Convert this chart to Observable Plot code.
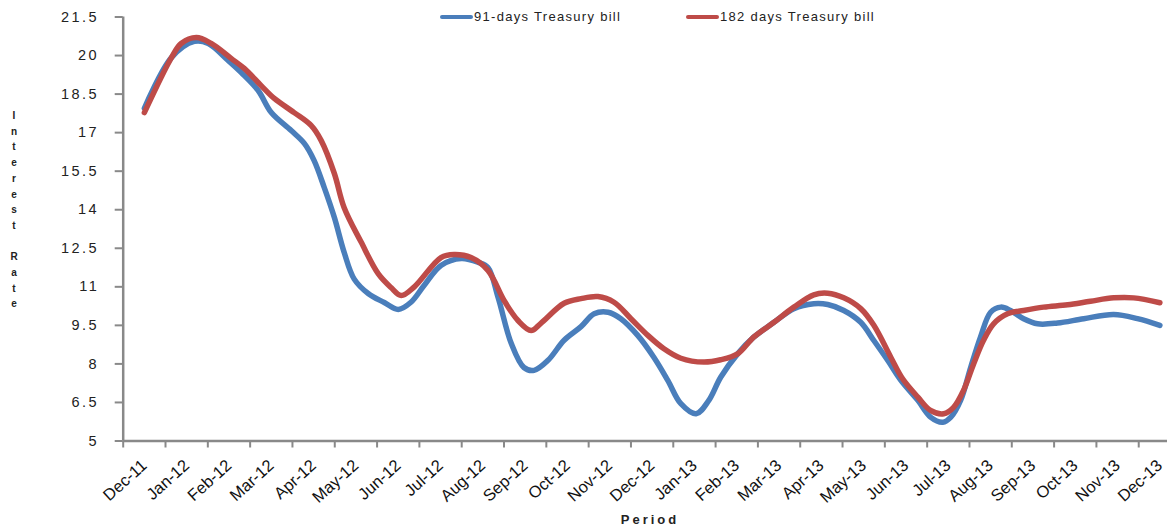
<!DOCTYPE html>
<html><head><meta charset="utf-8">
<script src="https://cdn.jsdelivr.net/npm/d3@7"></script>
<script src="https://cdn.jsdelivr.net/npm/@observablehq/plot@0.6"></script>
<style>
body{margin:0;background:#fff;font-family:"Liberation Sans",Arial,sans-serif;}
#wrap{position:relative;width:1167px;height:531px;overflow:hidden;}
#wrap svg{position:absolute;left:0;top:0;font-family:"Liberation Sans",Arial,sans-serif;}
g[aria-label="y-axis tick label"] text{letter-spacing:2.5px;font-size:14.5px;fill:#222;}
g[aria-label="x-axis tick label"] text{font-size:16.5px;fill:#111;}
.leg{position:absolute;top:9px;height:16px;font-size:13px;letter-spacing:1.3px;color:#222;white-space:nowrap;line-height:16px;}
.leg span.sw{display:inline-block;width:33px;height:4px;border-radius:2px;vertical-align:middle;margin-right:1px;position:relative;top:-1px;}
#ytitle{position:absolute;left:6px;top:108px;width:16px;text-align:center;font-size:10px;font-weight:bold;line-height:15.7px;white-space:pre;color:#222;}
#xtitle{position:absolute;left:0;width:1300px;top:512px;text-align:center;font-size:13px;font-weight:bold;letter-spacing:3px;color:#222;}
</style></head><body>
<div id="wrap"></div>
<script>
const months = ["Dec-11","Jan-12","Feb-12","Mar-12","Apr-12","May-12","Jun-12","Jul-12","Aug-12","Sep-12","Oct-12","Nov-12","Dec-12","Jan-13","Feb-13","Mar-13","Apr-13","May-13","Jun-13","Jul-13","Aug-13","Sep-13","Oct-13","Nov-13","Dec-13"];
const yTicks = [5,6.5,8,9.5,11,12.5,14,15.5,17,18.5,20,21.5];
const seriesNames = ["91-days Treasury bill","182 days Treasury bill"];
const seriesColors = ["#4A7EBB","#BE4B48"];

// month position (0 = Dec-11) and rate, 91-day bill
const t91 = [0,0.64,1.18,1.51,1.98,2.29,2.69,3.00,3.47,3.78,4.01,4.25,4.49,4.72,4.96,5.29,5.67,6.00,6.30,6.61,7.01,7.49,7.89,8.12,8.36,8.67,8.97,9.21,9.54,9.92,10.32,10.63,10.96,11.26,11.66,12.04,12.37,12.68,13.04,13.34,13.62,14.02,14.40,14.88,15.35,15.82,16.15,16.53,16.93,17.24,17.57,17.88,18.28,18.58,18.87,19.06,19.29,19.53,19.76,20.00,20.24,20.47,20.78,21.11,21.58,22.20,22.91,23.47,24.00];
const r91 = [17.95,19.92,20.55,20.47,19.81,19.34,18.64,17.78,17.08,16.58,15.92,14.87,13.70,12.35,11.30,10.74,10.39,10.12,10.40,11.05,11.83,12.10,11.95,11.75,10.59,8.80,7.86,7.75,8.14,8.92,9.45,9.95,10.01,9.76,9.11,8.26,7.36,6.45,6.06,6.58,7.48,8.39,9.04,9.62,10.15,10.34,10.31,10.08,9.62,8.91,8.13,7.36,6.58,5.93,5.73,5.93,6.58,7.87,9.04,10.01,10.21,10.08,9.76,9.56,9.59,9.76,9.92,9.76,9.50];

// 182-day bill
const t182 = [0,0.64,0.87,1.23,1.58,2.05,2.36,2.76,3.07,3.54,3.94,4.18,4.49,4.72,5.12,5.53,5.83,6.07,6.38,7.01,7.32,7.72,8.12,8.50,8.83,9.14,9.37,9.92,10.32,10.72,11.10,11.50,11.90,12.28,12.68,13.22,13.62,14.02,14.40,14.88,15.35,15.82,16.15,16.53,16.93,17.24,17.64,17.92,18.28,18.58,18.89,19.13,19.36,19.60,19.83,20.07,20.40,20.78,21.25,21.82,22.36,22.91,23.38,24.00];
const r182 = [17.78,19.92,20.47,20.70,20.47,19.89,19.50,18.83,18.33,17.78,17.28,16.69,15.41,14.09,12.75,11.50,10.97,10.66,11.00,12.14,12.26,12.14,11.64,10.47,9.69,9.30,9.58,10.36,10.54,10.62,10.40,9.76,9.11,8.59,8.22,8.07,8.16,8.39,9.04,9.62,10.21,10.69,10.75,10.57,10.15,9.50,8.26,7.42,6.71,6.19,6.06,6.32,6.97,8.01,8.91,9.56,9.95,10.08,10.21,10.30,10.44,10.57,10.57,10.38];

const d91 = t91.map((t,i)=>({t, r:r91[i]}));
const d182 = t182.map((t,i)=>({t, r:r182[i]}));
const boundaries = months.map((m,i)=>i-0.5);
const axisGray = "#898989";

const plot = Plot.plot({
  width:1167, height:531,
  marginTop:16.5, marginBottom:90.5, marginLeft:122.7, marginRight:0,
  x:{domain:[-0.5,24.18]},
  y:{domain:[5,21.5]},
  marks:[
    Plot.axisY({ticks:yTicks, tickSize:8, tickPadding:16, stroke:axisGray, strokeWidth:2, label:null, tickFormat:d=>String(d)}),
    Plot.axisX({ticks:months.map((m,i)=>i), tickFormat:i=>months[i], tickSize:0, tickRotate:-42, tickPadding:22, label:null}),
    Plot.axisX({ticks:boundaries, tickFormat:()=>"", tickSize:7, stroke:axisGray, strokeWidth:2, label:null}),
    Plot.ruleX([-0.5],{stroke:axisGray, strokeWidth:2.5}),
    Plot.ruleY([5],{stroke:axisGray, strokeWidth:2.5}),
    Plot.line(d91,{x:"t", y:"r", stroke:seriesColors[0], strokeWidth:5.5, curve:"catmull-rom", strokeLinecap:"round"}),
    Plot.line(d182,{x:"t", y:"r", stroke:seriesColors[1], strokeWidth:5.5, curve:"catmull-rom", strokeLinecap:"round"})
  ]
});
const wrap = document.getElementById("wrap");
wrap.appendChild(plot);

// legend
const legLeft = [440, 686];
seriesNames.forEach((n,i)=>{
  const d = document.createElement("div");
  d.className = "leg";
  d.style.left = legLeft[i] + "px";
  d.innerHTML = `<span class="sw" style="background:${seriesColors[i]}"></span>${n}`;
  wrap.appendChild(d);
});
// y title (stacked letters)
const yt = document.createElement("div");
yt.id = "ytitle";
yt.textContent = "Interest Rate".split("").join("\n");
wrap.appendChild(yt);
// x title
const xt = document.createElement("div");
xt.id = "xtitle";
xt.textContent = "Period";
wrap.appendChild(xt);
</script>
</body></html>
